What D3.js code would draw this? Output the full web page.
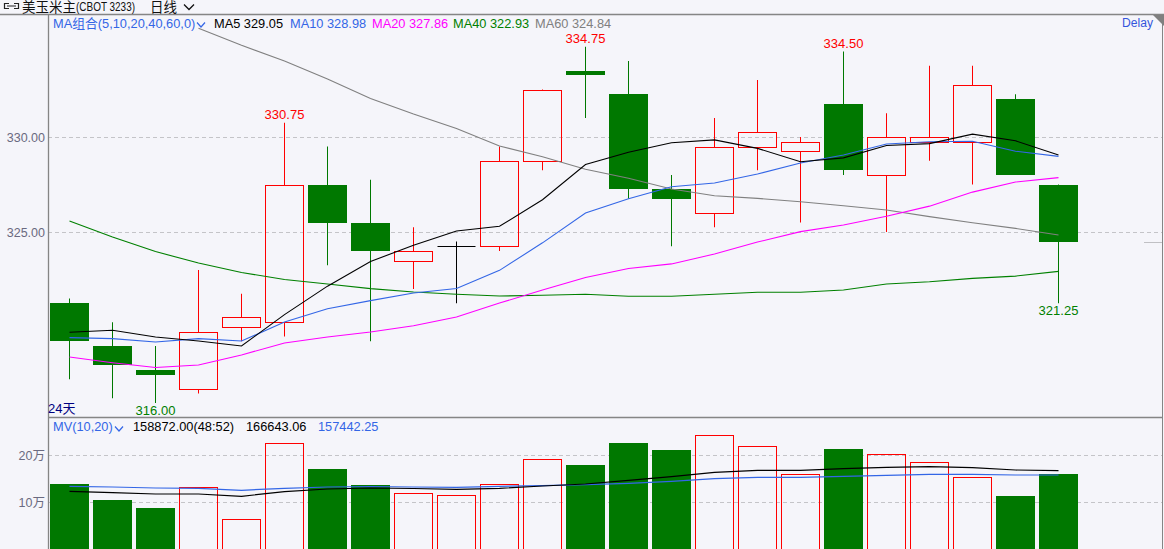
<!DOCTYPE html>
<html><head><meta charset="utf-8">
<script src="https://cdn.jsdelivr.net/npm/d3@7"></script>
<style>
html,body{margin:0;padding:0;background:#f5f5fa;}
svg{display:block;}
text{font-family:"Liberation Sans","Noto Sans CJK SC",Arial,sans-serif;}
</style></head><body>
<svg id="c" width="1164" height="549"></svg>
<script>
// ---- data ----
const days = [1,2,3,4,5,6,7,8,9,10,11,12,13,14,15,16,17,18,19,20,21,22,23,24];
const open  = [321.25,319.0,317.75,316.75,320.0,320.25,327.5,325.5,323.5,324.25,324.25,328.75,333.5,332.25,327.25,326.0,329.5,329.25,331.75,328.0,329.75,329.75,332.0,327.5];
const high  = [321.5,320.25,319.0,323.0,321.75,330.75,329.5,327.75,325.25,324.5,329.5,332.5,334.75,334.0,328.0,331.0,333.0,330.0,334.5,331.25,333.75,333.75,332.25,327.5];
const low   = [317.25,316.25,316.0,316.5,319.25,319.5,323.25,319.25,322.0,321.25,324.0,328.25,331.0,326.75,324.25,325.25,328.25,325.5,328.0,325.0,328.75,327.5,328.0,321.25];
const close = [319.25,318.0,317.5,319.75,320.5,327.5,325.5,324.0,324.0,324.25,328.75,332.5,333.25,327.25,326.75,329.5,330.25,329.75,328.25,330.0,330.0,332.75,328.0,324.5];
const ma5  = [319.72,319.83,319.47,319.26,319.0,320.65,322.15,323.45,324.3,325.05,325.3,326.7,328.55,329.2,329.7,329.85,329.4,328.7,328.9,329.55,329.65,330.15,329.8,329.05];
const ma10 = [319.44,319.39,319.21,319.39,319.26,320.26,320.96,321.39,321.79,322.03,322.98,324.43,326.0,326.75,327.38,327.58,328.05,328.63,329.05,329.63,329.75,329.78,329.25,328.98];
const ma20 = [318.42,318.12,317.87,318.0,318.53,319.16,319.47,319.74,320.07,320.53,321.26,321.95,322.61,323.08,323.32,323.84,324.47,325.02,325.37,325.83,326.36,327.10,327.63,327.86];
const ma40 = [325.58,324.74,323.97,323.37,322.87,322.5,322.26,322.02,321.84,321.72,321.63,321.67,321.72,321.62,321.62,321.72,321.83,321.83,321.95,322.26,322.38,322.56,322.68,322.93];
const ma60 = [null,null,null,335.72,334.83,334.0,333.05,332.03,331.21,330.45,329.53,328.96,328.30,327.83,327.26,326.91,326.77,326.59,326.38,326.16,325.81,325.49,325.19,324.84];
const volume = [138300,104300,87200,131300,63200,224900,170200,136200,118500,114300,137700,190900,178700,225500,210600,241900,218500,158900,212800,201500,184500,153200,112800,158872];
const mv10 = [122800,119800,117000,117000,112100,121900,127700,129800,128700,127000,129100,134000,138300,146200,153800,163200,167400,167400,170900,173800,175100,173000,168100,166643];
const mv20 = [133400,131900,129800,129100,124900,129100,131900,133000,131900,131300,133400,134700,136800,139800,144000,149600,152600,152600,154700,156800,158900,158900,157400,157442];
const priceTicks = [325, 330];
const volTicks = [100000, 200000];
const volTickLabels = ["10万", "20万"];
const highMarks = [5, 12, 18];
const lowMarks = [2, 23];
const maLegend = [
  {t:"MA5 329.05", c:"#000000", x:214},
  {t:"MA10 328.98", c:"#3366e6", x:290},
  {t:"MA20 327.86", c:"#ff00ff", x:372},
  {t:"MA40 322.93", c:"#008000", x:453},
  {t:"MA60 324.84", c:"#808080", x:535}
];
const mvLegend = [
  {t:"158872.00(48:52)", c:"#000000", x:133},
  {t:"166643.06", c:"#000000", x:246},
  {t:"157442.25", c:"#3366e6", x:318}
];

// ---- layout ----
const W=1164,H=549, L=48, R=1162, PT=15, PB=417, VB=549;
const RED="#ff0000", GREEN="#007800", BG="#f5f5fa";
const svg=d3.select('#c');
svg.append('rect').attr('width',W).attr('height',H).attr('fill',BG);

const x=d3.scaleBand().domain(days).range([L, L+43*days.length]).padding(0);
const cx=i=>x(days[i])+x.bandwidth()/2;
const y=d3.scaleLinear().domain([325,330]).range([232,137]);
const yv=d3.scaleLinear().domain([0,200000]).range([549,455]);

svg.append('clipPath').attr('id','cp').append('rect').attr('x',L+1).attr('y',PT+1).attr('width',R-L-1).attr('height',PB-PT-1);
svg.append('clipPath').attr('id','cv').append('rect').attr('x',L+1).attr('y',PB+1).attr('width',R-L-1).attr('height',VB-PB);

// gridlines
const grid=svg.append('g');
priceTicks.forEach(t=>grid.append('line').attr('x1',L).attr('x2',R).attr('y1',Math.round(y(t))+0.5).attr('y2',Math.round(y(t))+0.5)
  .attr('stroke','#c4c4c8').attr('stroke-dasharray','4,3'));
volTicks.forEach(t=>grid.append('line').attr('x1',L).attr('x2',R).attr('y1',Math.round(yv(t))+0.5).attr('y2',Math.round(yv(t))+0.5)
  .attr('stroke','#c4c4c8').attr('stroke-dasharray','4,3'));

// axes labels
const ya=svg.append('g').attr('transform',`translate(${L},0)`)
  .call(d3.axisLeft(y).tickValues(priceTicks).tickFormat(d3.format('.2f')).tickSize(0).tickPadding(3));
ya.select('.domain').remove();
ya.selectAll('text').attr('font-size',12.5).attr('fill','#6a6a80').attr('font-family','Liberation Sans, Arial, sans-serif');
const va=svg.append('g').attr('transform',`translate(${L},0)`)
  .call(d3.axisLeft(yv).tickValues(volTicks).tickFormat((d,i)=>volTickLabels[i]).tickSize(0).tickPadding(3));
va.select('.domain').remove();
va.selectAll('text').attr('font-size',12.5).attr('fill','#6a6a80');

// candles
const cg=svg.append('g').attr('clip-path','url(#cp)');
days.forEach((d,i)=>{
  const o=open[i],c=close[i],h=high[i],l=low[i];
  const xc=Math.floor(cx(i))+0.5;
  const top=Math.round(y(Math.max(o,c))), bot=Math.round(y(Math.min(o,c)));
  if(c>o){
    cg.append('line').attr('x1',xc).attr('x2',xc).attr('y1',y(h)).attr('y2',top).attr('stroke',RED);
    cg.append('line').attr('x1',xc).attr('x2',xc).attr('y1',bot).attr('y2',y(l)).attr('stroke',RED);
    cg.append('rect').attr('x',xc-19).attr('y',top+0.5).attr('width',38).attr('height',Math.max(1,bot-top))
      .attr('fill','none').attr('stroke',RED);
  } else if(c<o){
    cg.append('line').attr('x1',xc).attr('x2',xc).attr('y1',y(h)).attr('y2',y(l)).attr('stroke',GREEN);
    cg.append('rect').attr('x',xc-19.5).attr('y',top).attr('width',39).attr('height',Math.max(2,bot-top)).attr('fill',GREEN);
  } else {
    cg.append('line').attr('x1',xc).attr('x2',xc).attr('y1',y(h)).attr('y2',y(l)).attr('stroke','#000');
    cg.append('line').attr('x1',xc-19).attr('x2',xc+19).attr('y1',top+0.5).attr('y2',top+0.5).attr('stroke','#000');
  }
});

// MA lines
const ml=d3.line().defined(d=>d!=null).x((d,i)=>cx(i)).y(d=>y(d));
[[ma60,"#808080"],[ma40,"#008000"],[ma20,"#ff00ff"],[ma10,"#3366e6"],[ma5,"#000000"]].forEach(([arr,col])=>{
  cg.append('path').attr('d',ml(arr)).attr('fill','none').attr('stroke',col).attr('stroke-width',1.1);
});

// extreme labels
highMarks.forEach(i=>svg.append('text').attr('x',cx(i)).attr('y',y(high[i])-4).attr('text-anchor','middle')
  .attr('font-size',13).attr('fill',RED).text(high[i].toFixed(2)));
lowMarks.forEach(i=>svg.append('text').attr('x',cx(i)).attr('y',y(low[i])+12).attr('text-anchor','middle')
  .attr('font-size',13).attr('fill','#008000').text(low[i].toFixed(2)));

// last price marker at right
svg.append('line').attr('x1',1144).attr('x2',R).attr('y1',Math.round(y(close[23]))+0.5).attr('y2',Math.round(y(close[23]))+0.5).attr('stroke','#c0c0c4');

// volume bars
const vg=svg.append('g').attr('clip-path','url(#cv)');
days.forEach((d,i)=>{
  const xc=Math.floor(cx(i))+0.5;
  const top=Math.round(yv(volume[i]));
  if(close[i]>=open[i]){
    vg.append('rect').attr('x',xc-19).attr('y',top+0.5).attr('width',38).attr('height',VB-top+2).attr('fill','none').attr('stroke',RED);
  } else {
    vg.append('rect').attr('x',xc-19.5).attr('y',top).attr('width',39).attr('height',VB-top).attr('fill',GREEN);
  }
});
const vl=d3.line().x((d,i)=>cx(i)).y(d=>yv(d));
vg.append('path').attr('d',vl(mv20)).attr('fill','none').attr('stroke','#3366e6').attr('stroke-width',1.2);
vg.append('path').attr('d',vl(mv10)).attr('fill','none').attr('stroke','#000').attr('stroke-width',1.2);

// frame
const fr=svg.append('g').attr('stroke','#858585').attr('fill','none');
fr.append('line').attr('x1',0).attr('x2',W).attr('y1',14.5).attr('y2',14.5).attr('stroke-width',1.6);
fr.append('line').attr('x1',L+0.5).attr('x2',L+0.5).attr('y1',15).attr('y2',H).attr('stroke-width',1.3);
fr.append('line').attr('x1',R+0.5).attr('x2',R+0.5).attr('y1',15).attr('y2',H);
fr.append('line').attr('x1',L).attr('x2',R).attr('y1',PB+0.5).attr('y2',PB+0.5).attr('stroke-width',1.3);
svg.append('path').attr('d','M1153,15L1164,15L1164,26Z').attr('fill','#808080');

// header
const hd=svg.append('g');
hd.append('path').attr('d','M9,3.5H4.5V8.5H9M14,3.5H18.5V8.5H14M7,6H16').attr('fill','none').attr('stroke','#222').attr('stroke-width',1.2);
hd.append('text').attr('x',22).attr('y',12).attr('font-size',13.5).attr('fill','#111').attr('font-family','Noto Sans CJK SC, sans-serif').text('美玉米主');
hd.append('text').attr('x',76).attr('y',11).attr('font-size',12).attr('fill','#111').attr('font-family','Liberation Mono, monospace')
  .attr('textLength',59).attr('lengthAdjust','spacingAndGlyphs').text('(CBOT 3233)');
hd.append('text').attr('x',150).attr('y',12).attr('font-size',13.5).attr('fill','#111').attr('font-family','Noto Sans CJK SC, sans-serif').text('日线');
hd.append('path').attr('d','M184,4.5L189,9.5L194,4.5').attr('fill','none').attr('stroke','#111').attr('stroke-width',1.3);

// MA legend
svg.append('text').attr('x',53).attr('y',27.5).attr('font-size',12.8).attr('fill','#3366e6').text('MA组合(5,10,20,40,60,0)');
svg.append('path').attr('d','M197,22.5L201,27L205,22.5').attr('fill','none').attr('stroke','#3366e6').attr('stroke-width',1.2);
maLegend.forEach(m=>svg.append('text').attr('x',m.x).attr('y',27.5).attr('font-size',12.8).attr('fill',m.c).text(m.t));
svg.append('text').attr('x',1122).attr('y',27).attr('font-size',12).attr('fill','#3355dd').attr('font-family','Liberation Mono, monospace')
  .attr('textLength',31).attr('lengthAdjust','spacingAndGlyphs').text('Delay');

// day count
svg.append('text').attr('x',48).attr('y',413).attr('font-size',13).attr('fill','#000080').text('24天');

// MV legend
svg.append('text').attr('x',53).attr('y',431).attr('font-size',12.8).attr('fill','#3366e6').text('MV(10,20)');
svg.append('path').attr('d','M115,426.5L119,431L123,426.5').attr('fill','none').attr('stroke','#3366e6').attr('stroke-width',1.2);
mvLegend.forEach(m=>svg.append('text').attr('x',m.x).attr('y',431).attr('font-size',12.8).attr('fill',m.c).text(m.t));
</script>
</body></html>
